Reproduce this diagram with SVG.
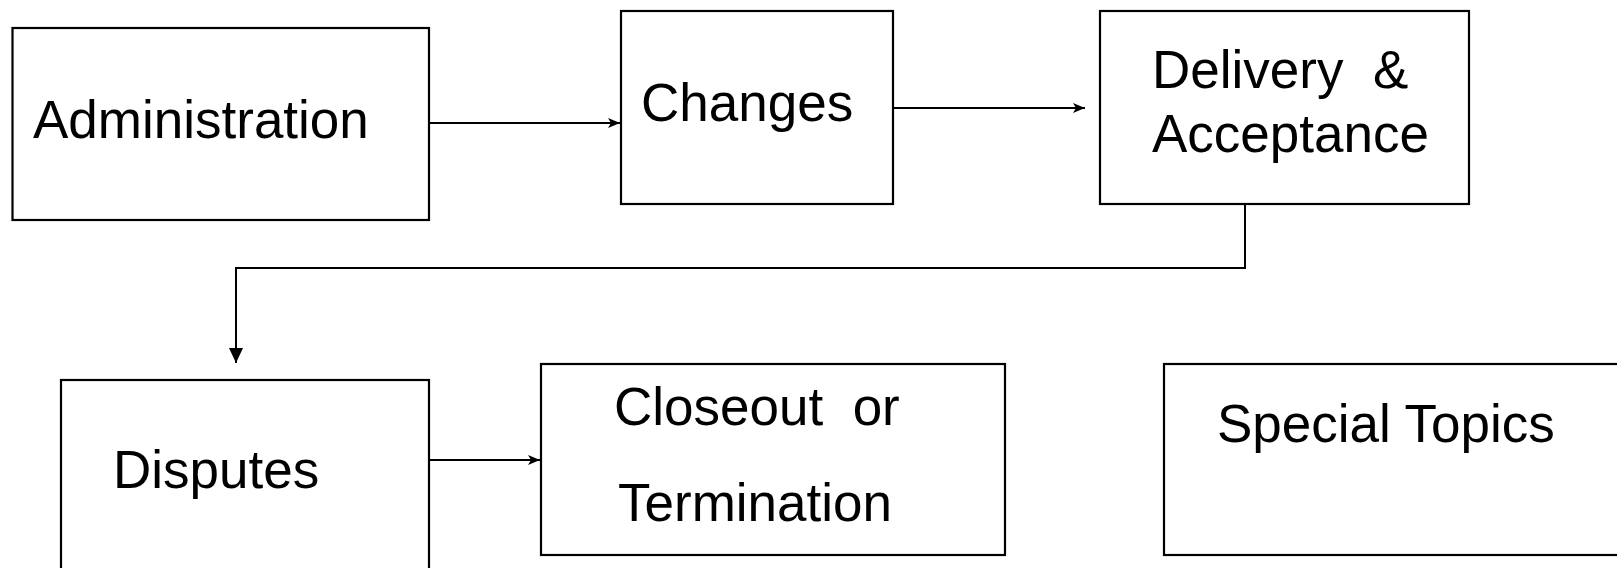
<svg xmlns="http://www.w3.org/2000/svg" width="1617" height="568" viewBox="0 0 1617 568">
<style>
.box{fill:#fff;stroke:#000;stroke-width:2.2}
.lbl{font-family:"Liberation Sans",Arial,sans-serif;font-size:53px;fill:#000}
.con{fill:none;stroke:#000;stroke-width:2}
</style>
<defs>
<marker id="ah" viewBox="0 0 12 10" refX="12" refY="5" markerWidth="12" markerHeight="10" markerUnits="userSpaceOnUse" orient="auto">
<path d="M0,0 L12,5 L0,10 L3,5 Z" fill="#000"/>
</marker>
<marker id="tri" viewBox="0 0 15 14" refX="15" refY="7" markerWidth="15" markerHeight="14" markerUnits="userSpaceOnUse" orient="auto">
<path d="M0,0 L15,7 L0,14 Z" fill="#000"/>
</marker>
</defs>
<rect width="1617" height="568" fill="#fff"/>
<g id="connectors">
<line class="con" x1="429" y1="123" x2="620" y2="123" marker-end="url(#ah)"/>
<line class="con" x1="893" y1="108" x2="1085" y2="108" marker-end="url(#ah)"/>
<polyline class="con" points="1245,204 1245,268 236,268 236,363" marker-end="url(#tri)"/>
<line class="con" x1="429" y1="460" x2="540" y2="460" marker-end="url(#ah)"/>
</g>
<g id="administration">
<rect class="box" x="12.5" y="28" width="416.5" height="192"/>
<text class="lbl" x="33" y="138">Administration</text>
</g>
<g id="changes">
<rect class="box" x="621" y="11" width="272" height="193"/>
<text class="lbl" x="641" y="121">Changes</text>
</g>
<g id="delivery">
<rect class="box" x="1100" y="11" width="369" height="193"/>
<text class="lbl" xml:space="preserve" x="1152" y="88">Delivery  &amp;</text>
<text class="lbl" x="1152" y="152">Acceptance</text>
</g>
<g id="disputes">
<rect class="box" x="61" y="380" width="368" height="200"/>
<text class="lbl" x="113" y="488">Disputes</text>
</g>
<g id="closeout">
<rect class="box" x="541" y="364" width="464" height="191"/>
<text class="lbl" xml:space="preserve" x="614" y="425">Closeout  or</text>
<text class="lbl" x="618" y="521">Termination</text>
</g>
<g id="special">
<rect class="box" x="1164" y="364" width="470" height="191"/>
<text class="lbl" x="1217" y="442">Special Topics</text>
</g>
</svg>
